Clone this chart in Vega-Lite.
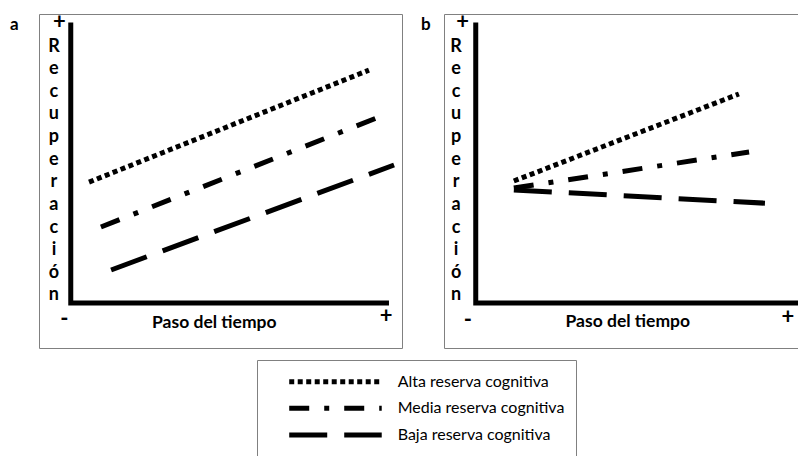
{
  "$schema": "https://vega.github.io/schema/vega-lite/v6.json",
  "padding": {"left": 9, "top": 10, "right": 0, "bottom": 0},
  "background": "white",
  "config": {"view": {"stroke": "#808080", "strokeWidth": 1}, "font": "Lato", "text": {"color": "black"}},
  "spacing": 10,
  "datasets": {
    "axes": [
      {"panel": "a", "o": 1, "x": 0, "y": 10},
      {"panel": "a", "o": 2, "x": 0, "y": 0},
      {"panel": "a", "o": 3, "x": 10.02, "y": 0},
      {"panel": "b", "o": 1, "x": 0, "y": 10},
      {"panel": "b", "o": 2, "x": 0, "y": 0},
      {"panel": "b", "o": 3, "x": 10.6, "y": 0}
    ],
    "lines": [
      {"panel": "a", "serie": "Alta", "x": 0.575, "y": 4.31},
      {"panel": "a", "serie": "Alta", "x": 9.39, "y": 8.3},
      {"panel": "a", "serie": "Media", "x": 0.95, "y": 2.71},
      {"panel": "a", "serie": "Media", "x": 10.02, "y": 6.77},
      {"panel": "a", "serie": "Baja", "x": 1.27, "y": 1.18},
      {"panel": "a", "serie": "Baja", "x": 10.18, "y": 4.92},
      {"panel": "b", "serie": "Alta", "x": 1.2, "y": 4.35},
      {"panel": "b", "serie": "Alta", "x": 8.29, "y": 7.45},
      {"panel": "b", "serie": "Media", "x": 1.2, "y": 4.1},
      {"panel": "b", "serie": "Media", "x": 8.61, "y": 5.38},
      {"panel": "b", "serie": "Baja", "x": 1.2, "y": 4.03},
      {"panel": "b", "serie": "Baja", "x": 9.11, "y": 3.56}
    ],
    "letters": [
      {"panel": "a", "t": "R", "x": -0.53, "y": 9.13},
      {"panel": "a", "t": "e", "x": -0.53, "y": 8.33},
      {"panel": "a", "t": "c", "x": -0.53, "y": 7.52},
      {"panel": "a", "t": "u", "x": -0.53, "y": 6.72},
      {"panel": "a", "t": "p", "x": -0.53, "y": 5.91},
      {"panel": "a", "t": "e", "x": -0.53, "y": 5.11},
      {"panel": "a", "t": "r", "x": -0.53, "y": 4.3},
      {"panel": "a", "t": "a", "x": -0.53, "y": 3.5},
      {"panel": "a", "t": "c", "x": -0.53, "y": 2.69},
      {"panel": "a", "t": "i", "x": -0.53, "y": 1.89},
      {"panel": "a", "t": "ó", "x": -0.53, "y": 1.08},
      {"panel": "a", "t": "n", "x": -0.53, "y": 0.28},
      {"panel": "b", "t": "R", "x": -0.62, "y": 9.13},
      {"panel": "b", "t": "e", "x": -0.62, "y": 8.33},
      {"panel": "b", "t": "c", "x": -0.62, "y": 7.52},
      {"panel": "b", "t": "u", "x": -0.62, "y": 6.72},
      {"panel": "b", "t": "p", "x": -0.62, "y": 5.91},
      {"panel": "b", "t": "e", "x": -0.62, "y": 5.11},
      {"panel": "b", "t": "r", "x": -0.62, "y": 4.3},
      {"panel": "b", "t": "a", "x": -0.62, "y": 3.5},
      {"panel": "b", "t": "c", "x": -0.62, "y": 2.69},
      {"panel": "b", "t": "i", "x": -0.62, "y": 1.89},
      {"panel": "b", "t": "ó", "x": -0.62, "y": 1.08},
      {"panel": "b", "t": "n", "x": -0.62, "y": 0.28}
    ],
    "signs": [
      {"panel": "a", "t": "+", "x": -0.36, "y": 10.02},
      {"panel": "a", "t": "-", "x": -0.2, "y": -0.58},
      {"panel": "a", "t": "+", "x": 9.93, "y": -0.46},
      {"panel": "b", "t": "+", "x": -0.41, "y": 10.0},
      {"panel": "b", "t": "-", "x": -0.25, "y": -0.6},
      {"panel": "b", "t": "+", "x": 9.83, "y": -0.5}
    ],
    "xlabels": [
      {"panel": "a", "t": "Paso del tiempo", "x": 4.52, "y": -0.71},
      {"panel": "b", "t": "Paso del tiempo", "x": 4.79, "y": -0.67}
    ],
    "tags": [
      {"panel": "a", "t": "a", "x": -1.78, "y": 9.9},
      {"panel": "b", "t": "b", "x": -1.57, "y": 9.9}
    ],
    "legendLines": [
      {"serie": "Alta", "row": 1, "x": 1.01},
      {"serie": "Alta", "row": 1, "x": 3.91},
      {"serie": "Media", "row": 2, "x": 1.01},
      {"serie": "Media", "row": 2, "x": 3.91},
      {"serie": "Baja", "row": 3, "x": 1.01},
      {"serie": "Baja", "row": 3, "x": 3.91}
    ],
    "legendText": [
      {"label": "Alta reserva cognitiva", "row": 1, "x": 4.41},
      {"label": "Media reserva cognitiva", "row": 2, "x": 4.41},
      {"label": "Baja reserva cognitiva", "row": 3, "x": 4.41}
    ]
  },
  "vconcat": [
    {
      "hconcat": [
        {
          "width": 363,
          "height": 334,
          "layer": [
            {
              "data": {"name": "axes"},
              "transform": [{"filter": "datum.panel == 'a'"}],
              "mark": {"type": "line", "strokeWidth": 5, "color": "black", "strokeJoin": "miter", "strokeCap": "butt"},
              "encoding": {
                "x": {"field": "x", "type": "quantitative", "scale": {"domain": [-1, 10.43], "nice": false, "zero": false}, "axis": null},
                "y": {"field": "y", "type": "quantitative", "scale": {"domain": [-1.6, 10.3], "nice": false, "zero": false}, "axis": null},
                "order": {"field": "o", "type": "quantitative"}
              }
            },
            {
              "data": {"name": "lines"},
              "transform": [{"filter": "datum.panel == 'a'"}],
              "mark": {"type": "line", "strokeWidth": 5, "color": "black", "strokeCap": "butt"},
              "encoding": {
                "x": {"field": "x", "type": "quantitative"},
                "y": {"field": "y", "type": "quantitative"},
                "strokeDash": {"field": "serie", "type": "nominal", "scale": {"domain": ["Alta", "Media", "Baja"], "range": [[5, 3.5], [20, 15, 5, 15], [38, 17]]}, "legend": null}
              }
            },
            {
              "data": {"name": "letters"},
              "transform": [{"filter": "datum.panel == 'a'"}],
              "mark": {"type": "text", "fontWeight": "bold", "fontSize": 18, "align": "center", "baseline": "middle"},
              "encoding": {"x": {"field": "x", "type": "quantitative"}, "y": {"field": "y", "type": "quantitative"}, "text": {"field": "t"}}
            },
            {
              "data": {"name": "signs"},
              "transform": [{"filter": "datum.panel == 'a'"}],
              "mark": {"type": "text", "fontWeight": "bold", "fontSize": 22, "align": "center", "baseline": "middle"},
              "encoding": {"x": {"field": "x", "type": "quantitative"}, "y": {"field": "y", "type": "quantitative"}, "text": {"field": "t"}}
            },
            {
              "data": {"name": "xlabels"},
              "transform": [{"filter": "datum.panel == 'a'"}],
              "mark": {"type": "text", "fontWeight": "bold", "fontSize": 17.5, "align": "center", "baseline": "middle"},
              "encoding": {"x": {"field": "x", "type": "quantitative"}, "y": {"field": "y", "type": "quantitative"}, "text": {"field": "t"}}
            },
            {
              "data": {"name": "tags"},
              "transform": [{"filter": "datum.panel == 'a'"}],
              "mark": {"type": "text", "fontWeight": "bold", "fontSize": 17, "align": "center", "baseline": "middle"},
              "encoding": {"x": {"field": "x", "type": "quantitative"}, "y": {"field": "y", "type": "quantitative"}, "text": {"field": "t"}}
            }
          ]
        },
        {
          "width": 360,
          "height": 334,
          "layer": [
            {
              "data": {"name": "axes"},
              "transform": [{"filter": "datum.panel == 'b'"}],
              "mark": {"type": "line", "strokeWidth": 5, "color": "black", "strokeJoin": "miter", "strokeCap": "butt"},
              "encoding": {
                "x": {"field": "x", "type": "quantitative", "scale": {"domain": [-1, 10.34], "nice": false, "zero": false}, "axis": null},
                "y": {"field": "y", "type": "quantitative", "scale": {"domain": [-1.6, 10.3], "nice": false, "zero": false}, "axis": null},
                "order": {"field": "o", "type": "quantitative"}
              }
            },
            {
              "data": {"name": "lines"},
              "transform": [{"filter": "datum.panel == 'b'"}],
              "mark": {"type": "line", "strokeWidth": 5, "color": "black", "strokeCap": "butt"},
              "encoding": {
                "x": {"field": "x", "type": "quantitative"},
                "y": {"field": "y", "type": "quantitative"},
                "strokeDash": {"field": "serie", "type": "nominal", "scale": {"domain": ["Alta", "Media", "Baja"], "range": [[5, 3.5], [20, 15, 5, 15], [38, 17]]}, "legend": null}
              }
            },
            {
              "data": {"name": "letters"},
              "transform": [{"filter": "datum.panel == 'b'"}],
              "mark": {"type": "text", "fontWeight": "bold", "fontSize": 18, "align": "center", "baseline": "middle"},
              "encoding": {"x": {"field": "x", "type": "quantitative"}, "y": {"field": "y", "type": "quantitative"}, "text": {"field": "t"}}
            },
            {
              "data": {"name": "signs"},
              "transform": [{"filter": "datum.panel == 'b'"}],
              "mark": {"type": "text", "fontWeight": "bold", "fontSize": 22, "align": "center", "baseline": "middle"},
              "encoding": {"x": {"field": "x", "type": "quantitative"}, "y": {"field": "y", "type": "quantitative"}, "text": {"field": "t"}}
            },
            {
              "data": {"name": "xlabels"},
              "transform": [{"filter": "datum.panel == 'b'"}],
              "mark": {"type": "text", "fontWeight": "bold", "fontSize": 17.5, "align": "center", "baseline": "middle"},
              "encoding": {"x": {"field": "x", "type": "quantitative"}, "y": {"field": "y", "type": "quantitative"}, "text": {"field": "t"}}
            },
            {
              "data": {"name": "tags"},
              "transform": [{"filter": "datum.panel == 'b'"}],
              "mark": {"type": "text", "fontWeight": "bold", "fontSize": 17, "align": "center", "baseline": "middle"},
              "encoding": {"x": {"field": "x", "type": "quantitative"}, "y": {"field": "y", "type": "quantitative"}, "text": {"field": "t"}}
            }
          ]
        }
      ],
      "spacing": 42,
      "bounds": "flush"
    },
    {
      "hconcat": [
        {
          "width": 1,
          "height": 1,
          "data": {"values": []},
          "mark": "point",
          "view": {"stroke": null}
        },
        {
          "width": 319,
          "height": 100,
          "layer": [
            {
              "data": {"name": "legendLines"},
              "mark": {"type": "line", "strokeWidth": 5, "color": "black", "strokeCap": "butt"},
              "encoding": {
                "x": {"field": "x", "type": "quantitative", "scale": {"domain": [0, 10], "nice": false, "zero": false}, "axis": null},
                "y": {"field": "row", "type": "quantitative", "scale": {"domain": [0.184, 3.94], "reverse": true, "nice": false, "zero": false}, "axis": null},
                "strokeDash": {"field": "serie", "type": "nominal", "scale": {"domain": ["Alta", "Media", "Baja"], "range": [[6, 3.3], [22, 14, 4, 15], [40, 15]]}, "legend": null}
              }
            },
            {
              "data": {"name": "legendText"},
              "mark": {"type": "text", "fontSize": 16, "align": "left", "baseline": "middle"},
              "encoding": {
                "x": {"field": "x", "type": "quantitative"},
                "y": {"field": "row", "type": "quantitative"},
                "text": {"field": "label"}
              }
            }
          ]
        }
      ],
      "spacing": 217,
      "bounds": "flush"
    }
  ]
}
